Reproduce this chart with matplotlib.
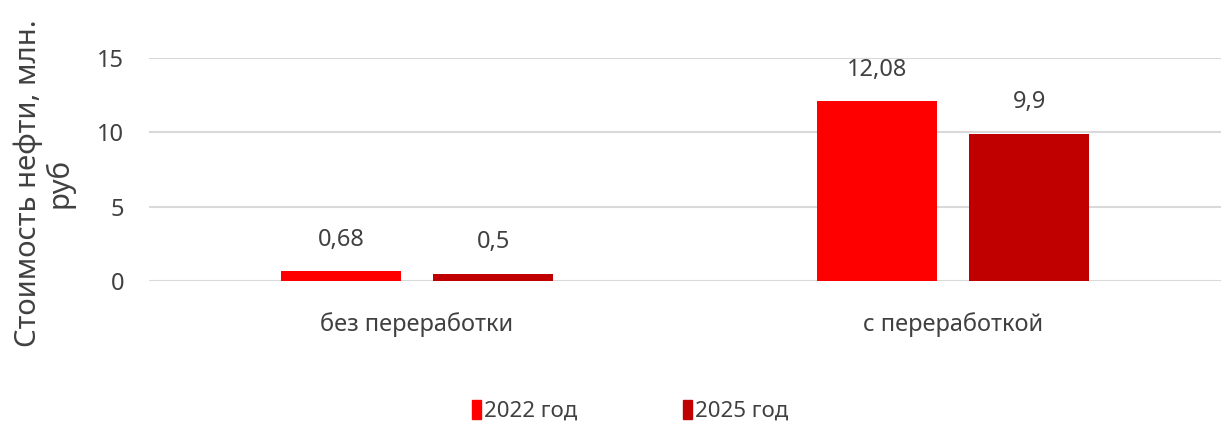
import numpy as np
import matplotlib.pyplot as plt
from matplotlib.patches import Patch

# Data
categories = ['без переработки', 'с переработкой']
series_names = ['2022 год', '2025 год']
values_2022 = [0.68, 12.08]
values_2025 = [0.5, 9.9]
value_labels_2022 = ['0,68', '12,08']
value_labels_2025 = ['0,5', '9,9']

colors = ['#FF0000', '#C00000']
text_color = '#404040'

plt.rcParams['font.family'] = ['Noto Sans', 'DejaVu Sans']

fig = plt.figure(figsize=(12.21, 4.26), dpi=100)
ax = fig.add_axes([0.122, 0.340, 0.878, 0.524])

x = np.arange(len(categories))
w = 0.225
off = 0.142

b1 = ax.bar(x - off, values_2022, w, color=colors[0], zorder=3)
b2 = ax.bar(x + off, values_2025, w, color=colors[1], zorder=3)

for bars, labs in [(b1, value_labels_2022), (b2, value_labels_2025)]:
    for bar, lab in zip(bars, labs):
        ax.annotate(lab, (bar.get_x() + bar.get_width() / 2, bar.get_height()),
                    xytext=(0, 14), textcoords='offset points',
                    ha='center', va='bottom', fontsize=17, color=text_color)

ax.set_xlim(-0.5, 1.5)
ax.set_ylim(0, 15)
ax.set_yticks([0, 5, 10, 15])
ax.yaxis.grid(True, color='#D9D9D9', lw=1.5, zorder=0)
ax.set_axisbelow(True)
for s in ax.spines.values():
    s.set_visible(False)
ax.tick_params(axis='both', length=0, labelsize=17, labelcolor=text_color)
ax.tick_params(axis='y', pad=18)
ax.tick_params(axis='x', pad=22)
ax.set_xticks(x)
ax.set_xticklabels(categories)

fig.text(0.036, 0.57, 'Стоимость нефти, млн.\nруб', rotation=90,
         ha='center', va='center', multialignment='center',
         fontsize=21, color=text_color, linespacing=1.05)

handles = [Patch(color=c) for c in colors]
fig.legend(handles, series_names, loc='center', bbox_to_anchor=(0.516, 0.035),
           ncol=2, frameon=False, fontsize=16, labelcolor=text_color,
           handlelength=0.4, handleheight=0.9, handletextpad=0.15,
           columnspacing=4.75)

fig.savefig('out.png', dpi=100)
